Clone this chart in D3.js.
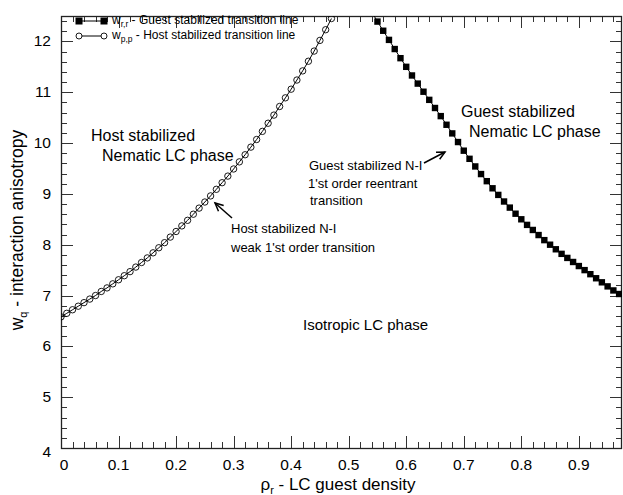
<!DOCTYPE html>
<html>
<head>
<meta charset="utf-8">
<script src="https://cdn.jsdelivr.net/npm/d3@7"></script>
<style>
  body { margin: 0; background: #fff; }
  svg { font-family: "Liberation Sans", Arial, sans-serif; }
</style>
</head>
<body>
<svg id="chart" width="623" height="495"></svg>
<script>
// host stabilized transition line (open circles), x step 0.01
const hostRho = [0.00, 0.01, 0.02, 0.03, 0.04, 0.05, 0.06, 0.07, 0.08, 0.09,
  0.10, 0.11, 0.12, 0.13, 0.14, 0.15, 0.16, 0.17, 0.18, 0.19,
  0.20, 0.21, 0.22, 0.23, 0.24, 0.25, 0.26, 0.27, 0.28, 0.29,
  0.30, 0.31, 0.32, 0.33, 0.34, 0.35, 0.36, 0.37, 0.38, 0.39,
  0.40, 0.41, 0.42, 0.43, 0.44, 0.45, 0.46, 0.47];
const hostW = [6.58, 6.65, 6.72, 6.79, 6.86, 6.93, 7.00, 7.08, 7.15, 7.23,
  7.31, 7.39, 7.47, 7.56, 7.65, 7.74, 7.84, 7.94, 8.04, 8.15,
  8.26, 8.37, 8.48, 8.60, 8.72, 8.84, 8.96, 9.09, 9.22, 9.35,
  9.49, 9.63, 9.77, 9.92, 10.07, 10.23, 10.39, 10.55, 10.72, 10.89,
  11.06, 11.24, 11.42, 11.61, 11.81, 12.02, 12.23, 12.45];

// guest stabilized transition line (filled squares)
const guestRho = [0.54, 0.55, 0.56, 0.57, 0.58, 0.59, 0.60, 0.61, 0.62, 0.63,
  0.64, 0.65, 0.66, 0.67, 0.68, 0.69, 0.70, 0.71, 0.72, 0.73,
  0.74, 0.75, 0.76, 0.77, 0.78, 0.79, 0.80, 0.81, 0.82, 0.83,
  0.84, 0.85, 0.86, 0.87, 0.88, 0.89, 0.90, 0.91, 0.92, 0.93,
  0.94, 0.95, 0.96, 0.97];
const guestW = [12.58, 12.39, 12.21, 12.03, 11.85, 11.67, 11.50, 11.33, 11.17, 11.01,
  10.85, 10.69, 10.53, 10.36, 10.19, 10.02, 9.85, 9.69, 9.54, 9.39,
  9.25, 9.11, 8.98, 8.85, 8.73, 8.61, 8.50, 8.39, 8.29, 8.19,
  8.09, 8.00, 7.91, 7.82, 7.74, 7.66, 7.58, 7.50, 7.42, 7.34,
  7.26, 7.18, 7.10, 7.03];

const xTicks = [0, 0.1, 0.2, 0.3, 0.4, 0.5, 0.6, 0.7, 0.8, 0.9];
const yTicks = [4, 5, 6, 7, 8, 9, 10, 11, 12];

const svg = d3.select("#chart");
const plotL = 61, plotR = 622, plotT = 16, plotB = 448;

const x = d3.scaleLinear().domain([0, 0.975]).range([plotL, plotR]);
const y = d3.scaleLinear().domain([4, 12.5]).range([plotB, plotT]);

svg.append("defs").append("clipPath").attr("id", "clip")
  .append("rect").attr("x", plotL).attr("y", plotT)
  .attr("width", plotR - plotL).attr("height", plotB - plotT);

// ticks on all four sides, pointing inward
const xMinor = d3.range(0, 0.975, 0.02);
const yMinor = d3.range(4, 12.5, 0.2);
const axisG = svg.append("g").attr("stroke", "#333").attr("stroke-width", 1);

xMinor.forEach(v => {
  const major = xTicks.some(t => Math.abs(t - v) < 1e-6);
  const len = major ? 12 : 6;
  const px = Math.round(x(v)) + 0.5;
  axisG.append("line").attr("x1", px).attr("x2", px).attr("y1", plotB).attr("y2", plotB - len);
  axisG.append("line").attr("x1", px).attr("x2", px).attr("y1", plotT).attr("y2", plotT + len);
});
yMinor.forEach(v => {
  const major = yTicks.some(t => Math.abs(t - v) < 1e-6);
  const len = major ? 12 : 6;
  const py = Math.round(y(v)) + 0.5;
  axisG.append("line").attr("x1", plotL).attr("x2", plotL + len).attr("y1", py).attr("y2", py);
  axisG.append("line").attr("x1", plotR).attr("x2", plotR - len).attr("y1", py).attr("y2", py);
});

svg.append("rect")
  .attr("x", plotL + 0.5).attr("y", plotT + 0.5)
  .attr("width", plotR - plotL - 1).attr("height", plotB - plotT)
  .attr("fill", "none").attr("stroke", "#222").attr("stroke-width", 1.3);

// tick labels
svg.append("g").selectAll("text").data(xTicks).join("text")
  .attr("x", d => x(d) + (d === 0 ? 3 : 0))
  .attr("y", 470)
  .attr("text-anchor", "middle")
  .attr("font-size", 15.5)
  .text(d => d === 0 ? "0" : d3.format(".1f")(d));

svg.append("g").selectAll("text").data(yTicks).join("text")
  .attr("x", 51)
  .attr("y", d => y(d) + 5 + (d === 4 ? 4 : 0))
  .attr("text-anchor", "end")
  .attr("font-size", 15.5)
  .text(d => d);

// axis titles
const xt = svg.append("text").attr("x", 338).attr("y", 490)
  .attr("text-anchor", "middle").attr("font-size", 17);
xt.append("tspan").text("ρ");
xt.append("tspan").attr("font-size", 11).attr("dy", 4).text("r");
xt.append("tspan").attr("dy", -4).text(" - LC guest density");

const yt = svg.append("text")
  .attr("transform", "translate(23,230) rotate(-90)")
  .attr("text-anchor", "middle").attr("font-size", 17.5);
yt.append("tspan").text("w");
yt.append("tspan").attr("font-size", 11).attr("dy", 4).text("q");
yt.append("tspan").attr("dy", -4).text(" - interaction anisotropy");

// data series
const plot = svg.append("g").attr("clip-path", "url(#clip)");
const hostData = hostRho.map((r, i) => [r, hostW[i]]);
const guestData = guestRho.map((r, i) => [r, guestW[i]]);
const line = d3.line().x(d => x(d[0])).y(d => y(d[1]));

plot.append("path").datum(hostData).attr("d", line)
  .attr("fill", "none").attr("stroke", "#000").attr("stroke-width", 1);
plot.selectAll(".host").data(hostData).join("circle")
  .attr("class", "host")
  .attr("cx", d => x(d[0])).attr("cy", d => y(d[1])).attr("r", 3.2)
  .attr("fill", "none").attr("stroke", "#000").attr("stroke-width", 0.9);

plot.append("path").datum(guestData).attr("d", line)
  .attr("fill", "none").attr("stroke", "#000").attr("stroke-width", 1);
plot.selectAll(".guest").data(guestData).join("rect")
  .attr("class", "guest")
  .attr("x", d => x(d[0]) - 3.2).attr("y", d => y(d[1]) - 3.2)
  .attr("width", 6.4).attr("height", 6.4)
  .attr("fill", "#000");

// legend
const lg = svg.append("g").attr("font-size", 12);
lg.append("line").attr("x1", 79).attr("x2", 104).attr("y1", 21).attr("y2", 21).attr("stroke", "#000");
[79, 104].forEach(cx => lg.append("rect").attr("x", cx - 3.5).attr("y", 21 - 3.5)
  .attr("width", 7).attr("height", 7).attr("fill", "#000"));
lg.append("line").attr("x1", 79).attr("x2", 104).attr("y1", 36).attr("y2", 36).attr("stroke", "#000");
[79, 104].forEach(cx => lg.append("circle").attr("cx", cx).attr("cy", 36).attr("r", 3)
  .attr("fill", "#fff").attr("stroke", "#000").attr("stroke-width", 0.9));

function legendText(yy, sub, rest) {
  const t = lg.append("text").attr("x", 112).attr("y", yy);
  t.append("tspan").text("w");
  t.append("tspan").attr("font-size", 8.5).attr("dy", 3).text(sub);
  t.append("tspan").attr("dy", -3).text(" - " + rest);
}
legendText(24, "r,r", "Guest stabilized transition line");
legendText(39, "p,p", "Host stabilized transition line");

// region labels
const big = svg.append("g").attr("font-size", 16);
big.append("text").attr("x", 91).attr("y", 141).text("Host stabilized");
big.append("text").attr("x", 102).attr("y", 161).text("Nematic LC phase");
big.append("text").attr("x", 461).attr("y", 117).text("Guest stabilized");
big.append("text").attr("x", 469).attr("y", 137).text("Nematic LC phase");
big.append("text").attr("x", 303).attr("y", 330).attr("font-size", 15).text("Isotropic LC phase");

// transition annotations
const small = svg.append("g").attr("font-size", 13);
small.append("text").attr("x", 231).attr("y", 233).text("Host stabilized N-I");
small.append("text").attr("x", 231).attr("y", 252).text("weak 1'st order transition");
small.append("text").attr("x", 309).attr("y", 170).text("Guest stabilized N-I");
small.append("text").attr("x", 308).attr("y", 188).text("1'st order reentrant");
small.append("text").attr("x", 310).attr("y", 205).text("transition");

function arrow(x1, y1, x2, y2) {
  const a = Math.atan2(y2 - y1, x2 - x1);
  const h = 9, s = 0.45;
  const g = svg.append("g").attr("stroke", "#000").attr("stroke-width", 1.5).attr("fill", "none");
  g.append("line").attr("x1", x1).attr("y1", y1).attr("x2", x2).attr("y2", y2);
  g.append("path").attr("d",
    `M${x2 - h * Math.cos(a - s)},${y2 - h * Math.sin(a - s)}L${x2},${y2}L${x2 - h * Math.cos(a + s)},${y2 - h * Math.sin(a + s)}`);
}
arrow(232, 218, 215, 203);
arrow(424, 163, 445, 152);
</script>
</body>
</html>
